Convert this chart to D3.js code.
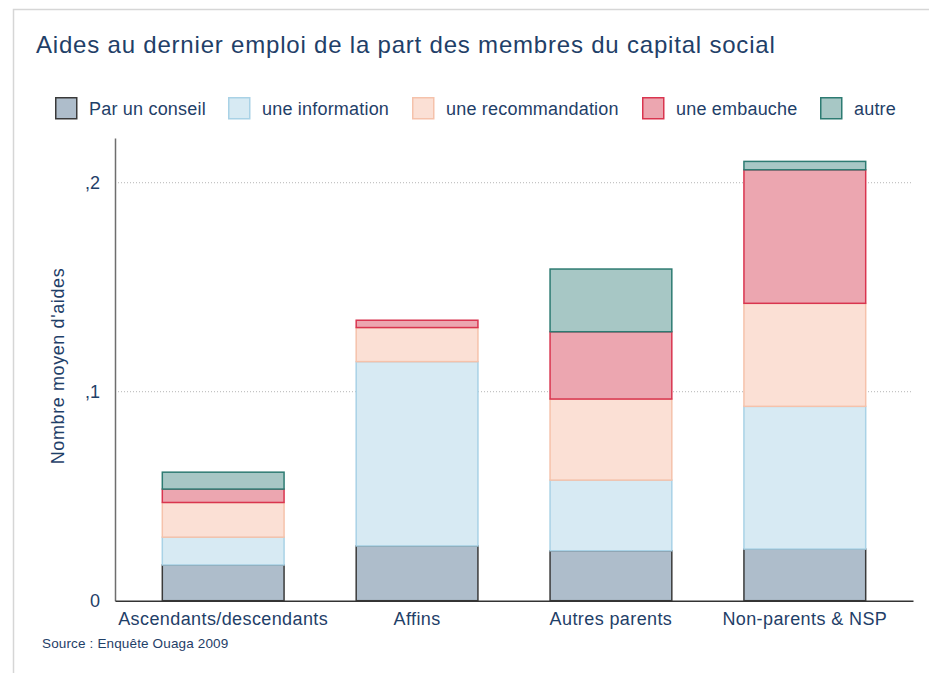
<!DOCTYPE html>
<html>
<head>
<meta charset="utf-8">
<script src="https://cdn.jsdelivr.net/npm/d3@7"></script>
<style>
body { margin: 0; background: #fff; }
svg { font-family: "Liberation Sans", Arial, sans-serif; }
</style>
</head>
<body>
<script>
// categories and series
var categories = ["Ascendants/descendants", "Affins", "Autres parents", "Non-parents & NSP"];
var series = ["Par un conseil", "une information", "une recommandation", "une embauche", "autre"];

// values (nombre moyen d'aides)
var conseil        = [0.0171, 0.0262, 0.0239, 0.0247];
var information    = [0.0133, 0.0882, 0.0338, 0.0683];
var recommandation = [0.0166, 0.0163, 0.0388, 0.0493];
var embauche       = [0.0064, 0.0035, 0.0322, 0.0639];
var autre          = [0.0081, 0.0000, 0.0300, 0.0040];

var tickValues = [0, 0.1, 0.2];
var tickLabels = ["0", ",1", ",2"];

var fills   = ["#aebdcb", "#d7eaf3", "#fbe0d5", "#eca6b0", "#a7c7c5"];
var strokes = ["#3a3a3a", "#a9d2e6", "#f5c2ab", "#d9354f", "#2d7b72"];
var textColor = "#1f4068";

var width = 929, height = 673;

var svg = d3.select("body").append("svg")
    .attr("width", width)
    .attr("height", height);

// panel border
svg.append("path")
    .attr("d", "M13.5," + height + "V9.5H" + width)
    .attr("fill", "none")
    .attr("stroke", "#d6d6d6")
    .attr("stroke-width", 1.5);

svg.append("text")
    .attr("x", 36)
    .attr("y", 53)
    .attr("fill", textColor)
    .style("font-size", "24px")
    .style("letter-spacing", "0.8px")
    .text("Aides au dernier emploi de la part des membres du capital social");

// build table for the stack
var table = categories.map(function(c, i) {
  return {cat: c, s0: conseil[i], s1: information[i], s2: recommandation[i], s3: embauche[i], s4: autre[i]};
});
var keys = ["s0", "s1", "s2", "s3", "s4"];
var stacked = d3.stack().keys(keys)(table);

var x = d3.scaleBand()
    .domain(categories)
    .range([115, 913])
    .paddingInner(0.372)
    .paddingOuter(0.244);

var y = d3.scaleLinear()
    .domain([0, 0.2214])
    .range([600.7, 138]);

// gridlines
svg.append("g")
  .selectAll("line")
  .data(tickValues.slice(1))
  .enter().append("line")
    .attr("x1", 115).attr("x2", 913)
    .attr("y1", function(d) { return y(d); })
    .attr("y2", function(d) { return y(d); })
    .attr("stroke", "#b5b5b5")
    .attr("stroke-width", 1)
    .attr("stroke-dasharray", "1,2");

// bars
var layers = svg.append("g")
  .selectAll("g")
  .data(stacked)
  .enter().append("g")
    .attr("fill", function(d, i) { return fills[i]; })
    .attr("stroke", function(d, i) { return strokes[i]; })
    .attr("stroke-width", 1.5);

layers.selectAll("rect")
  .data(function(d) { return d.filter(function(p) { return p[1] - p[0] > 0; }); })
  .enter().append("rect")
    .attr("x", function(d) { return x(d.data.cat); })
    .attr("width", x.bandwidth())
    .attr("y", function(d) { return y(d[1]); })
    .attr("height", function(d) { return y(d[0]) - y(d[1]); });

// y axis
var yAxis = svg.append("g")
    .attr("transform", "translate(115,0)")
    .call(d3.axisLeft(y).tickValues(tickValues).tickSize(0).tickPadding(15)
      .tickFormat(function(d, i) { return tickLabels[i]; }));
yAxis.select(".domain").attr("stroke", "#6e6e6e").attr("stroke-width", 1.5);
yAxis.selectAll("text")
    .attr("fill", textColor)
    .style("font-size", "18px")
    .style("font-family", "'Liberation Sans', Arial, sans-serif");

// x axis
var xAxis = svg.append("g")
    .attr("transform", "translate(0,600.7)")
    .call(d3.axisBottom(x).tickSize(0).tickPadding(12));
xAxis.select(".domain").attr("stroke", "#333").attr("stroke-width", 1.5);
xAxis.selectAll("text")
    .attr("fill", textColor)
    .style("font-size", "18px")
    .style("letter-spacing", "0.4px")
    .style("font-family", "'Liberation Sans', Arial, sans-serif");

svg.append("text")
    .attr("transform", "translate(64,366) rotate(-90)")
    .attr("text-anchor", "middle")
    .attr("fill", textColor)
    .style("font-size", "18px")
    .style("letter-spacing", "0.6px")
    .text("Nombre moyen d'aides");

svg.append("text")
    .attr("x", 42)
    .attr("y", 648)
    .attr("fill", textColor)
    .style("font-size", "13.5px")
    .style("letter-spacing", "0.15px")
    .text("Source : Enquête Ouaga 2009");

// legend
var legendX = [55, 228, 412, 642, 820];
var legend = svg.append("g")
  .selectAll("g")
  .data(series)
  .enter().append("g")
    .attr("transform", function(d, i) { return "translate(" + legendX[i] + ",97)"; });

legend.append("rect")
    .attr("x", 0.75).attr("y", 0.75)
    .attr("width", 21).attr("height", 21)
    .attr("fill", function(d, i) { return fills[i]; })
    .attr("stroke", function(d, i) { return strokes[i]; })
    .attr("stroke-width", 1.5);

legend.append("text")
    .attr("x", 34)
    .attr("y", 18)
    .attr("fill", textColor)
    .style("font-size", "18px")
    .style("letter-spacing", "0.2px")
    .text(function(d) { return d; });
</script>
</body>
</html>
